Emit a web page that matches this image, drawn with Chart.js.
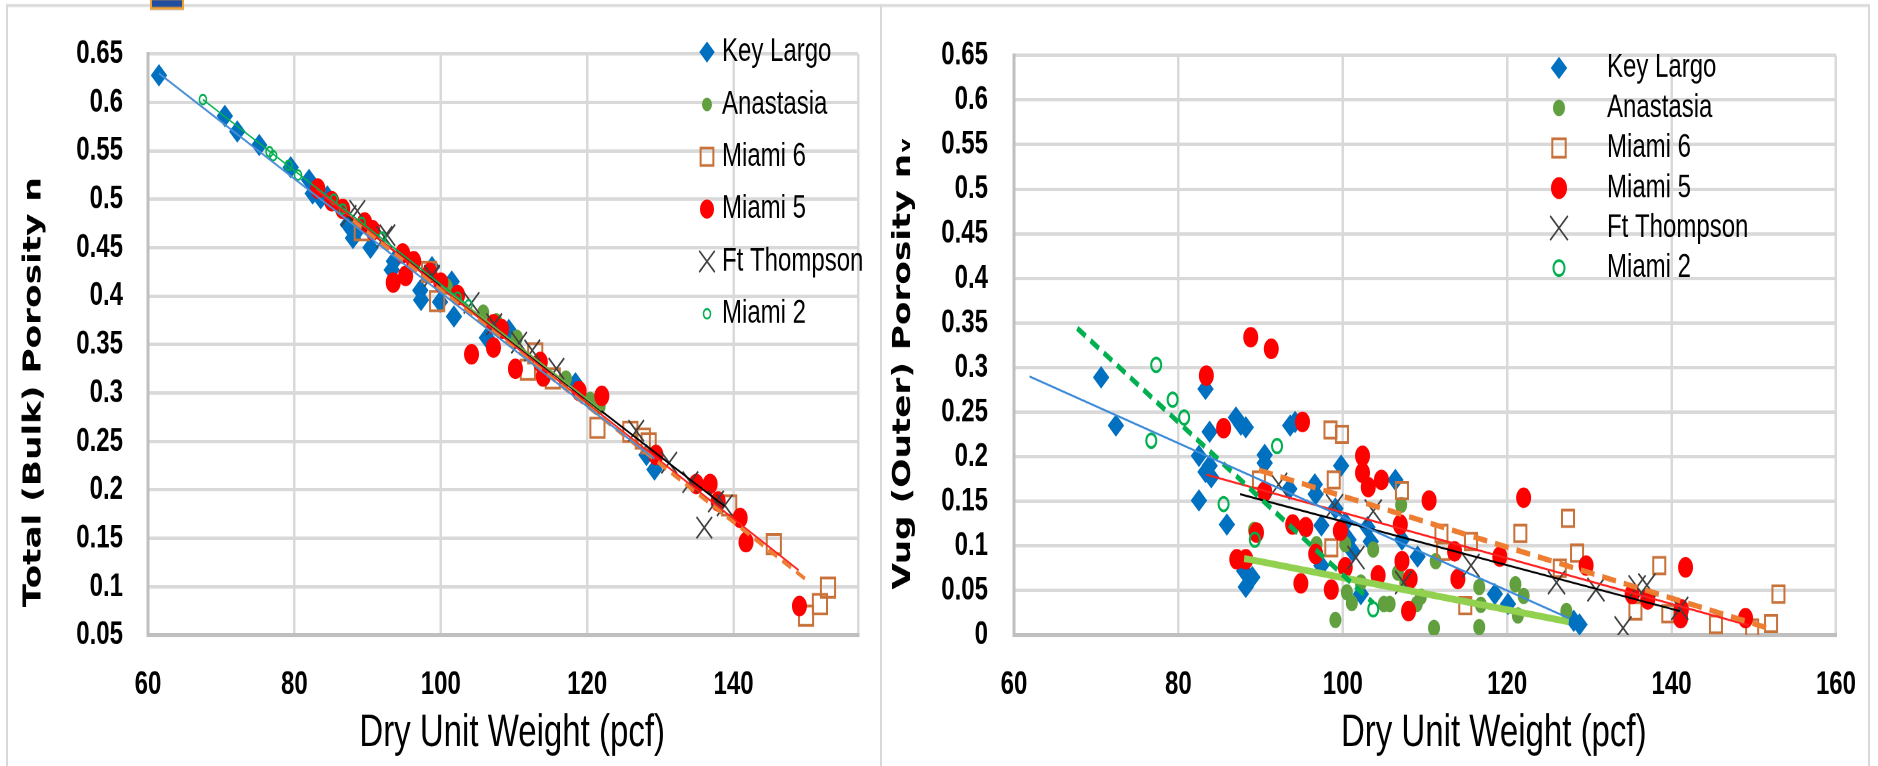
<!DOCTYPE html>
<html>
<head>
<meta charset="utf-8">
<script src="https://cdn.jsdelivr.net/npm/chart.js@4.4.0/dist/chart.umd.min.js"></script>
<style>
html, body { margin: 0; padding: 0; background: #fff; overflow: hidden; }
/* the reference looks stretched vertically, so the whole stage is drawn short and scaled */
#stage { position: absolute; left: 0; top: 0; width: 1878px; height: 559px; transform: scaleY(1.3703); transform-origin: 0 0; }
.panel { position: absolute; top: 0; height: 559px; }
#p1 { left: 0; width: 880px; }
#p2 { left: 880px; width: 998px; }
.frame { position: absolute; border: 2px solid #d9d9d9; border-bottom: none; }
#icon { position: absolute; left: 150px; top: -2px; width: 30px; height: 5px; background: #1f4ea0; border: 2px solid #f0a030; }
</style>
</head>
<body>
<div id="stage">
  <div class="frame" style="left:6px; top:3px; width:872px; height:560px;"></div>
  <div class="frame" style="left:881px; top:3px; width:987px; height:560px; border-left:none;"></div>
  <div id="icon"></div>
  <div class="panel" id="p1"><canvas id="chartBulk"></canvas></div>
  <div class="panel" id="p2"><canvas id="chartVug"></canvas></div>
</div>
<script>
// ---- left chart: total (bulk) porosity ----
const bulkKeyLargoX = [61.5, 70.5, 72.2, 75.2, 79.5, 82.0, 82.5, 83.6, 84.5, 87.3, 88.0, 88.4, 90.4, 93.3, 93.6, 97.2, 97.3, 98.8, 99.9, 101.5, 101.8, 106.3, 109.3, 118.4, 128.1, 129.2];
const bulkKeyLargoY = [0.628, 0.586, 0.570, 0.556, 0.533, 0.520, 0.506, 0.501, 0.503, 0.474, 0.460, 0.466, 0.450, 0.427, 0.436, 0.406, 0.396, 0.430, 0.394, 0.415, 0.379, 0.357, 0.365, 0.310, 0.236, 0.221];
const bulkAnastasiaX = [100.8, 105.8, 107.6, 110.4, 117.1, 120.4, 121.7];
const bulkAnastasiaY = [0.410, 0.383, 0.374, 0.357, 0.315, 0.293, 0.286];
const bulkMiami6X = [89.2, 98.4, 99.5, 111.9, 112.9, 115.3, 121.4, 125.9, 127.6, 128.4, 139.4, 145.5, 149.9, 151.8, 152.9];
const bulkMiami6Y = [0.468, 0.425, 0.395, 0.324, 0.341, 0.315, 0.264, 0.260, 0.253, 0.248, 0.184, 0.144, 0.070, 0.082, 0.099];
const bulkMiami5X = [83.2, 85.1, 86.6, 89.6, 90.7, 93.5, 94.8, 95.2, 96.3, 98.5, 100.0, 102.3, 104.2, 107.2, 107.2, 108.3, 110.2, 113.6, 114.0, 118.9, 122.0, 129.4, 134.9, 136.8, 137.9, 140.9, 141.7, 149.0];
const bulkMiami5Y = [0.511, 0.498, 0.490, 0.476, 0.468, 0.414, 0.444, 0.421, 0.436, 0.424, 0.414, 0.401, 0.340, 0.347, 0.371, 0.366, 0.325, 0.332, 0.317, 0.302, 0.297, 0.236, 0.206, 0.206, 0.188, 0.171, 0.146, 0.080];
const bulkFtThompsonX = [87.4, 88.6, 92.3, 92.7, 98.8, 104.2, 107.3, 110.7, 112.5, 115.8, 126.7, 131.2, 134.1, 136.0, 137.6, 138.8];
const bulkFtThompsonY = [0.483, 0.488, 0.461, 0.463, 0.421, 0.393, 0.371, 0.352, 0.344, 0.325, 0.261, 0.228, 0.208, 0.161, 0.188, 0.184];
const bulkMiami2X = [67.5, 76.6, 77.1, 79.2, 80.5, 85.4, 86.6, 89.2, 92.0, 102.3, 103.8];
const bulkMiami2Y = [0.603, 0.549, 0.545, 0.535, 0.525, 0.500, 0.490, 0.476, 0.461, 0.399, 0.391];

// trend line end points
const bulkTrendKeyLargo = [[61.5, 0.630], [129.2, 0.232]];
const bulkTrendMiami2 = [[67.5, 0.603], [103.8, 0.390]];
const bulkTrendAnastasia = [[100.0, 0.411], [122.0, 0.282]];
const bulkTrendMiami6 = [[88.0, 0.478], [150.3, 0.105]];
const bulkTrendMiami5 = [[83.0, 0.510], [148.9, 0.117]];
const bulkTrendFtThompson = [[87.4, 0.483], [138.8, 0.183]];

// ---- right chart: vug (outer) porosity ----
const vugKeyLargoX = [70.6, 72.4, 82.5, 82.5, 83.3, 83.3, 83.8, 83.8, 84.0, 85.9, 87.0, 87.6, 88.2, 88.0, 88.2, 89.0, 90.5, 90.5, 93.5, 93.6, 94.2, 96.6, 96.7, 97.4, 97.4, 99.8, 99.1, 100.3, 100.7, 101.2, 102.2, 103.0, 103.4, 106.4, 107.2, 109.1, 118.5, 120.1, 128.1, 128.8];
const vugKeyLargoY = [0.289, 0.235, 0.201, 0.151, 0.276, 0.183, 0.228, 0.190, 0.177, 0.124, 0.244, 0.236, 0.233, 0.072, 0.054, 0.065, 0.202, 0.193, 0.164, 0.235, 0.239, 0.169, 0.158, 0.123, 0.078, 0.190, 0.142, 0.126, 0.107, 0.094, 0.046, 0.121, 0.105, 0.174, 0.107, 0.088, 0.046, 0.035, 0.016, 0.012];
const vugAnastasiaX = [89.2, 96.8, 99.1, 100.3, 100.5, 101.1, 102.2, 103.7, 105.0, 105.7, 107.1, 106.7, 107.6, 109.0, 109.5, 111.3, 111.1, 116.6, 116.6, 116.8, 121.0, 121.3, 122.0, 127.2];
const vugAnastasiaY = [0.118, 0.102, 0.017, 0.102, 0.048, 0.036, 0.059, 0.096, 0.035, 0.035, 0.146, 0.070, 0.059, 0.035, 0.043, 0.083, 0.008, 0.054, 0.009, 0.034, 0.057, 0.022, 0.044, 0.027];
const vugMiami6X = [89.8, 98.5, 99.9, 98.9, 98.6, 107.2, 112.0, 112.2, 115.6, 114.9, 121.6, 127.4, 128.5, 126.4, 135.6, 138.5, 139.6, 145.4, 149.8, 152.1, 153.0];
const vugMiami6Y = [0.174, 0.230, 0.225, 0.174, 0.098, 0.162, 0.114, 0.094, 0.105, 0.033, 0.114, 0.131, 0.092, 0.075, 0.027, 0.078, 0.024, 0.012, 0.008, 0.013, 0.046];
const vugMiami5X = [83.4, 88.8, 91.3, 85.5, 95.1, 87.1, 88.2, 89.5, 90.5, 93.9, 94.9, 95.5, 96.7, 98.6, 99.7, 100.3, 102.4, 102.4, 103.1, 104.7, 104.3, 107.0, 107.2, 108.0, 108.2, 110.5, 113.6, 114.0, 119.1, 122.0, 129.6, 135.2, 137.1, 141.2, 141.1, 141.7, 149.0];
const vugMiami5Y = [0.291, 0.334, 0.321, 0.232, 0.239, 0.085, 0.085, 0.115, 0.161, 0.124, 0.058, 0.121, 0.091, 0.051, 0.117, 0.076, 0.201, 0.182, 0.166, 0.174, 0.067, 0.124, 0.083, 0.027, 0.063, 0.151, 0.094, 0.063, 0.088, 0.154, 0.078, 0.046, 0.040, 0.029, 0.019, 0.076, 0.019];
const vugFtThompsonX = [92.2, 99.0, 101.6, 103.7, 107.4, 115.6, 126.0, 130.8, 134.1, 135.8, 137.0, 141.0];
const vugFtThompsonY = [0.169, 0.145, 0.087, 0.139, 0.059, 0.078, 0.059, 0.051, 0.008, 0.054, 0.056, 0.030];
const vugMiami2X = [76.7, 77.3, 79.3, 80.7, 85.5, 89.3, 92.0, 103.7];
const vugMiami2Y = [0.218, 0.303, 0.264, 0.244, 0.147, 0.107, 0.212, 0.029];

const vugTrendKeyLargo = [[61.9, 0.290], [127.5, 0.019]];
const vugTrendMiami2 = [[67.7, 0.344], [103.7, 0.036]];
const vugTrendAnastasia = [[88.0, 0.086], [127.5, 0.015]];
const vugTrendMiami6 = [[89.8, 0.185], [151.7, 0.008]];
const vugTrendMiami5 = [[83.4, 0.180], [149.4, 0.011]];
const vugTrendFtThompson = [[87.5, 0.158], [141.0, 0.027]];

// 图例与坐标轴的字体
const FONT = '"Liberation Sans", Arial, sans-serif';
const TITLE_FONT = '"DejaVu Sans", Verdana, sans-serif';

function pts(xs, ys) {
    return xs.map((x, i) => ({ x: x, y: ys[i] }));
}
function seg(pair) {
    return pair.map(p => ({ x: p[0], y: p[1] }));
}

function scatterSet(label, data, style) {
    return Object.assign({
        label: label,
        data: data,
        showLine: false,
        pointHoverRadius: 0
    }, style);
}

function trendSet(data, color, width, dash) {
    return {
        label: 'trend',
        trend: true,
        data: data,
        showLine: true,
        borderColor: color,
        borderWidth: width,
        borderDash: dash || [],
        pointRadius: 0,
        fill: false,
        order: 0
    };
}

// legend drawn inside the plot, one row per scatter series
const insideLegend = {
    id: 'insideLegend',
    afterDraw(chart, args, opts) {
        const ctx = chart.ctx;
        ctx.save();
        ctx.font = '24px ' + FONT;
        ctx.textBaseline = 'middle';
        ctx.textAlign = 'left';
        let row = 0;
        chart.data.datasets.forEach(ds => {
            if (ds.trend) return;
            const y = opts.top + row * opts.step;
            ctx.fillStyle = ds.pointBackgroundColor;
            ctx.strokeStyle = ds.pointBorderColor;
            ctx.lineWidth = ds.pointBorderWidth;
            Chart.helpers.drawPoint(ctx, {
                pointStyle: ds.pointStyle,
                radius: ds.legendRadius,
                rotation: 0,
                borderWidth: ds.pointBorderWidth
            }, opts.markerX, y);
            ctx.fillStyle = '#000';
            ctx.fillText(ds.label, opts.textX, y);
            row++;
        });
        ctx.restore();
    }
};

function makeOptions(cfg) {
    return {
        responsive: true,
        maintainAspectRatio: false,
        animation: false,
        devicePixelRatio: 2,
        layout: { padding: cfg.padding },
        plugins: {
            legend: { display: false },
            tooltip: { enabled: false },
            insideLegend: cfg.legend
        },
        scales: {
            x: {
                type: 'linear',
                min: cfg.xMin,
                max: cfg.xMax,
                afterFit: s => { s.height = 95.5; },
                ticks: {
                    stepSize: 20,
                    padding: 22,
                    color: '#000',
                    font: { family: FONT, size: 24, weight: 'bold' },
                    callback: v => (v % 20 === 0 ? v : '')
                },
                grid: { color: '#d9d9d9', lineWidth: 2.5, drawTicks: false },
                border: { color: '#bfbfbf', width: 3 },
                title: {
                    display: true,
                    text: cfg.xTitle,
                    color: '#000',
                    font: { family: FONT, size: 33 },
                    padding: { top: 0, bottom: 4 }
                }
            },
            y: {
                min: cfg.yMin,
                max: 0.65,
                afterFit: s => { s.width = cfg.yWidth; },
                ticks: {
                    stepSize: 0.05,
                    padding: cfg.yTickPad,
                    color: '#000',
                    font: { family: FONT, size: 24, weight: 'bold' },
                    // Excel style: 0.6 not 0.60
                    callback: v => String(parseFloat(v.toFixed(2)))
                },
                grid: { color: '#d9d9d9', lineWidth: 2.5, drawTicks: false },
                border: { color: '#bfbfbf', width: 3 },
                title: {
                    display: true,
                    text: cfg.yTitle,
                    color: '#000',
                    font: { family: TITLE_FONT, size: 25, weight: 'bold' },
                    padding: { top: cfg.yTitlePad, bottom: 0 }
                }
            }
        }
    };
}

// 左图
new Chart(document.getElementById('chartBulk'), {
    type: 'scatter',
    data: {
        datasets: [
            scatterSet('Key Largo', pts(bulkKeyLargoX, bulkKeyLargoY), { pointStyle: 'rectRot', pointRadius: 7.5, pointBackgroundColor: '#0070c0', pointBorderColor: '#0070c0', pointBorderWidth: 1, legendRadius: 7, order: 6 }),
            scatterSet('Anastasia', pts(bulkAnastasiaX, bulkAnastasiaY), { pointStyle: 'circle', pointRadius: 5.5, pointBackgroundColor: '#62a03f', pointBorderColor: '#62a03f', pointBorderWidth: 1, legendRadius: 4.5, order: 5 }),
            scatterSet('Miami 6', pts(bulkMiami6X, bulkMiami6Y), { pointStyle: 'rect', pointRadius: 10, pointBackgroundColor: 'rgba(0,0,0,0)', pointBorderColor: '#c8723a', pointBorderWidth: 2, legendRadius: 9, order: 4 }),
            scatterSet('Miami 5', pts(bulkMiami5X, bulkMiami5Y), { pointStyle: 'circle', pointRadius: 7, pointBackgroundColor: '#ff0000', pointBorderColor: '#ff0000', pointBorderWidth: 1, legendRadius: 6.5, order: 3 }),
            scatterSet('Ft Thompson', pts(bulkFtThompsonX, bulkFtThompsonY), { pointStyle: 'crossRot', pointRadius: 11, pointBackgroundColor: '#404040', pointBorderColor: '#404040', pointBorderWidth: 1.5, legendRadius: 11, order: 2 }),
            scatterSet('Miami 2', pts(bulkMiami2X, bulkMiami2Y), { pointStyle: 'circle', pointRadius: 3.5, pointBackgroundColor: 'rgba(0,0,0,0)', pointBorderColor: '#00b050', pointBorderWidth: 1.5, legendRadius: 3.5, order: 1 }),
            trendSet(seg(bulkTrendKeyLargo), '#4a8fd6', 1.5),
            trendSet(seg(bulkTrendMiami2), '#00b050', 1.2),
            trendSet(seg(bulkTrendAnastasia), '#70ad47', 1.5),
            trendSet(seg(bulkTrendMiami6), '#ed7d31', 3, [10, 6]),
            trendSet(seg(bulkTrendMiami5), '#ff2020', 1.5),
            trendSet(seg(bulkTrendFtThompson), '#000000', 1.5)
        ]
    },
    options: makeOptions({
        padding: { left: 0, right: 3, top: 31, bottom: 0 },
        xMin: 60, xMax: 157, yMin: 0.05,
        yWidth: 148, yTickPad: 25, yTitlePad: 19,
        xTitle: '  Dry Unit Weight (pcf)',
        yTitle: 'Total (Bulk) Porosity n        ',
        legend: { markerX: 707, textX: 722, top: 38, step: 38.2 }
    }),
    plugins: [insideLegend]
});

// 右图
new Chart(document.getElementById('chartVug'), {
    type: 'scatter',
    data: {
        datasets: [
            scatterSet('Key Largo', pts(vugKeyLargoX, vugKeyLargoY), { pointStyle: 'rectRot', pointRadius: 7.5, pointBackgroundColor: '#0070c0', pointBorderColor: '#0070c0', pointBorderWidth: 1, legendRadius: 7.5, order: 6 }),
            scatterSet('Anastasia', pts(vugAnastasiaX, vugAnastasiaY), { pointStyle: 'circle', pointRadius: 5.5, pointBackgroundColor: '#62a03f', pointBorderColor: '#62a03f', pointBorderWidth: 1, legendRadius: 5.5, order: 5 }),
            scatterSet('Miami 6', pts(vugMiami6X, vugMiami6Y), { pointStyle: 'rect', pointRadius: 8.5, pointBackgroundColor: 'rgba(0,0,0,0)', pointBorderColor: '#c8723a', pointBorderWidth: 2, legendRadius: 9.5, order: 4 }),
            scatterSet('Miami 5', pts(vugMiami5X, vugMiami5Y), { pointStyle: 'circle', pointRadius: 7, pointBackgroundColor: '#ff0000', pointBorderColor: '#ff0000', pointBorderWidth: 1, legendRadius: 7.5, order: 3 }),
            scatterSet('Ft Thompson', pts(vugFtThompsonX, vugFtThompsonY), { pointStyle: 'crossRot', pointRadius: 12, pointBackgroundColor: '#404040', pointBorderColor: '#404040', pointBorderWidth: 1.5, legendRadius: 12.5, order: 2 }),
            scatterSet('Miami 2', pts(vugMiami2X, vugMiami2Y), { pointStyle: 'circle', pointRadius: 5, pointBackgroundColor: 'rgba(0,0,0,0)', pointBorderColor: '#00b050', pointBorderWidth: 2, legendRadius: 5.5, order: 1 }),
            trendSet(seg(vugTrendKeyLargo), '#3d8bd8', 1.5),
            trendSet(seg(vugTrendMiami2), '#00b050', 4, [10, 6]),
            trendSet(seg(vugTrendAnastasia), '#92d050', 5),
            trendSet(seg(vugTrendMiami6), '#ed7d31', 4, [14, 8]),
            trendSet(seg(vugTrendMiami5), '#ff2020', 1.5),
            trendSet(seg(vugTrendFtThompson), '#000000', 1.5)
        ]
    },
    options: makeOptions({
        padding: { left: 0, right: 34, top: 30, bottom: 0 },
        xMin: 60, xMax: 160, yMin: 0,
        yWidth: 134, yTickPad: 26, yTitlePad: 8.5,
        xTitle: '               Dry Unit Weight (pcf)',
        yTitle: 'Vug (Outer) Porosity nᵥ   ',
        legend: { markerX: 679, textX: 727, top: 49.6, step: 29.2 }
    }),
    plugins: [insideLegend]
});
</script>
</body>
</html>
